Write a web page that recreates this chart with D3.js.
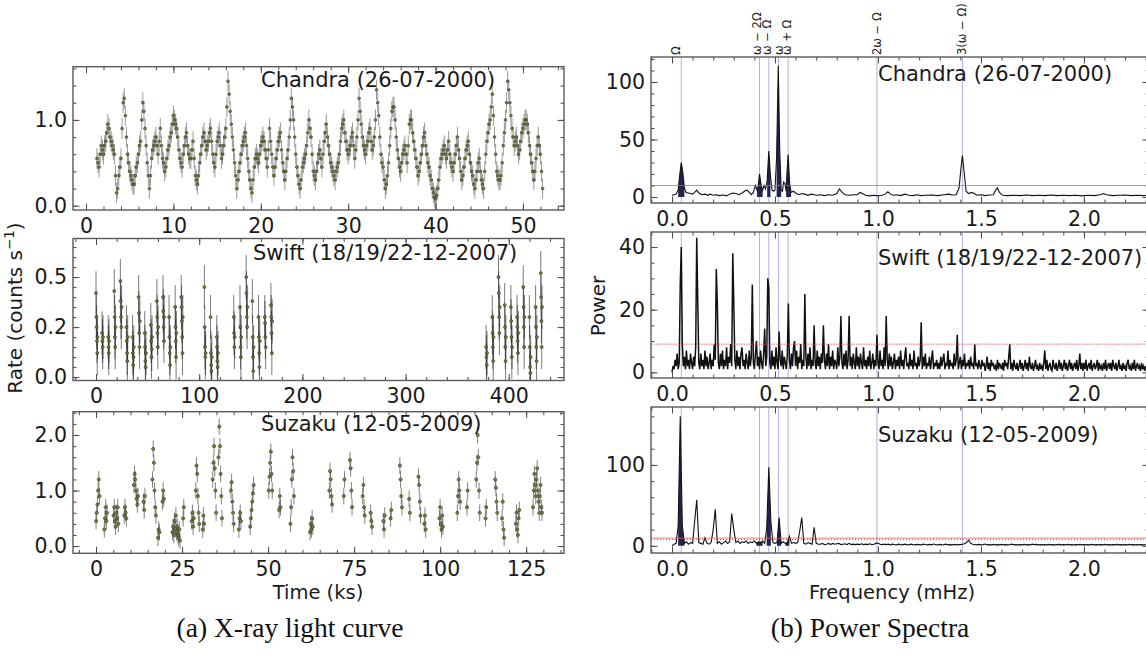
<!DOCTYPE html>
<html><head><meta charset="utf-8">
<script src="https://cdn.jsdelivr.net/npm/d3@7"></script>
<style>
body{margin:0;background:#fff;}
</style></head><body>
<svg id="c" width="1146" height="661" font-family="DejaVu Sans" xmlns="http://www.w3.org/2000/svg"></svg>
<script>
// ---------------- DATA ----------------
// Chandra light curve (26-07-2000): start time (ks), bin (ks), rates (counts/s)
const chandraStart = 1.25, chandraBin = 0.125, chandraErr = 0.12;
const chandraRate = [
0.55,0.5,0.45,0.6,0.7,0.65,0.6,0.7, 0.75,0.85,0.95,0.9,0.8,0.75,0.7,0.65,
0.6,0.35,0.15,0.2,0.35,0.45,0.55,0.9, 1.2,1.25,1.05,0.8,0.6,0.5,0.4,0.35,
0.3,0.25,0.25,0.35,0.45,0.5,0.6,0.7, 0.75,1.0,1.2,1.1,0.9,0.7,0.5,0.35,
0.2,0.35,0.55,0.65,0.7,0.75,0.8,0.7, 0.6,0.75,0.9,0.7,0.55,0.5,0.4,0.45,
0.55,0.65,0.7,0.8,0.85,0.95,1.05,1.0, 0.95,0.9,0.8,0.65,0.55,0.5,0.45,0.6,
0.7,0.8,0.85,0.7,0.6,0.55,0.55,0.65, 0.75,0.55,0.35,0.3,0.25,0.35,0.5,0.6,
0.7,0.8,0.85,0.75,0.65,0.7,0.75,0.85, 0.9,0.75,0.6,0.5,0.45,0.6,0.75,0.8,
0.85,0.7,0.55,0.6,0.7,0.8,0.9,1.15, 1.45,1.3,1.1,0.95,0.8,0.65,0.5,0.35,
0.2,0.3,0.4,0.5,0.6,0.7,0.75,0.8, 0.85,0.7,0.55,0.4,0.3,0.2,0.15,0.3,
0.45,0.55,0.6,0.55,0.5,0.6,0.7,0.75, 0.8,0.75,0.65,0.55,0.45,0.65,0.9,0.75,
0.6,0.45,0.35,0.45,0.55,0.65,0.75,0.8, 0.85,0.65,0.5,0.4,0.3,0.4,0.55,0.65,
0.8,1.0,1.25,1.15,1.0,0.8,0.6,0.45, 0.35,0.25,0.2,0.3,0.45,0.5,0.55,0.6,
0.7,0.85,1.0,0.9,0.8,0.6,0.4,0.35, 0.3,0.4,0.5,0.6,0.65,0.55,0.45,0.6,
0.75,0.85,0.95,0.8,0.7,0.6,0.5,0.45, 0.4,0.35,0.3,0.4,0.45,0.5,0.6,0.75,
0.9,0.95,1.0,0.85,0.75,0.65,0.6,0.65, 0.7,0.8,0.85,0.7,0.55,0.65,0.8,1.0,
1.25,1.1,0.95,0.8,0.7,0.65,0.6,0.7, 0.75,0.85,0.9,0.75,0.65,0.7,0.8,1.0,
1.35,1.2,1.05,0.8,0.6,0.5,0.45,0.3, 0.2,0.25,0.35,0.5,0.7,0.9,1.1,1.15,
1.15,1.0,0.8,0.65,0.55,0.45,0.4,0.5, 0.6,0.65,0.7,0.6,0.5,0.7,0.95,1.0,
1.0,0.85,0.75,0.65,0.55,0.45,0.35,0.4, 0.5,0.6,0.7,0.8,0.85,0.7,0.6,0.5,
0.45,0.35,0.3,0.2,0.15,0.1,0.08,0.12, 0.2,0.3,0.45,0.55,0.6,0.65,0.7,0.6,
0.55,0.65,0.75,0.6,0.5,0.45,0.4,0.5, 0.6,0.7,0.8,0.65,0.55,0.4,0.3,0.35,
0.45,0.55,0.65,0.7,0.75,0.6,0.5,0.4, 0.35,0.25,0.2,0.3,0.4,0.5,0.55,0.4,
0.3,0.25,0.2,0.4,0.6,0.75,0.85,0.95, 1.0,1.15,1.3,1.05,0.8,0.6,0.4,0.35,
0.3,0.3,0.35,0.5,0.7,0.85,1.0,1.2, 1.45,1.35,1.2,1.05,0.9,0.8,0.7,0.75,
0.8,0.7,0.6,0.65,0.75,0.85,0.9,0.95, 1.0,1.0,0.95,0.85,0.7,0.6,0.5,0.4,
0.3,0.4,0.55,0.7,0.8,0.7,0.6,0.4, 0.2];

// Swift light curve: snapshot start times (ks) and rates within each snapshot
const swiftBin = 0.3, swiftErr = 0.11;
const swiftSnapTime = [0,5.9,11.8,17.7,23.6,29.5,35.4,41.3,47.2,53.1,59,64.9,70.8,76.7,82.6,
  105,111,117, 133.5,139.5,145.5,151.5,157.5,163.5,169.5,
  378,384,390,396,402,408,414,420,426,431];
const swiftSnapRate = [
 [0.42,0.3,0.25,0.18,0.12,0.2],[0.22,0.18,0.15,0.2],[0.2,0.15,0.12,0.18],[0.43,0.3,0.2,0.15,0.25],
 [0.48,0.38,0.3,0.25,0.35],[0.25,0.18,0.12,0.08,0.2],[0.2,0.12,0.06,0.1,0.15],[0.4,0.32,0.22,0.15,0.28],
 [0.22,0.15,0.08,0.05,0.12],[0.26,0.18,0.1,0.14,0.2],[0.38,0.3,0.22,0.15,0.25],[0.4,0.33,0.25,0.18,0.3],
 [0.3,0.2,0.12,0.06,0.15],[0.35,0.25,0.18,0.1,0.22],[0.4,0.35,0.28,0.2,0.12,0.3],
 [0.45,0.25,0.15,0.1,0.12],[0.3,0.12,0.06,0.03,0.1],[0.2,0.15,0.08,0.05,0.12],
 [0.3,0.22,0.15,0.2],[0.35,0.25,0.15,0.1,0.2],[0.5,0.42,0.3,0.25,0.35],[0.38,0.2,0.1,0.03,0.15],
 [0.3,0.2,0.12,0.05,0.18],[0.3,0.27,0.2,0.15],[0.36,0.3,0.22,0.12,0.28],
 [0.15,0.1,0.06,0.12],[0.3,0.22,0.15,0.08,0.2],[0.5,0.42,0.3,0.22,0.35],[0.36,0.25,0.15,0.08,0.2],
 [0.35,0.28,0.2,0.1,0.15],[0.3,0.25,0.18,0.12,0.22],[0.45,0.35,0.25,0.15,0.3],[0.3,0.15,0.05,0.02,0.1],
 [0.35,0.25,0.15,0.08,0.2],[0.52,0.4,0.28,0.15,0.35]];

// Suzaku light curve: orbit-segment start times (ks) and rates
const suzakuBin = 0.2, suzakuErr = 0.15;
const suzakuSegStart = [0,2.4,5.1,8.2,11.0,13.8,16.4,18.0,19.3,22.2,25.3,27.8,29.0,31.0,33.9,35.6,39.2,41.5,44.8,
  50.2,53.2,56.5,62.2,67.8,72.0,73.8,77.5,79.8,83.5,85.6,88.3,91.0,93.7,95.4,99.8,105.0,107.8,110.5,113.2,116.0,118.0,122.0,127.0];
const suzakuSegRate = [
 [0.45,0.6,0.75,1.0,1.2,0.9],[0.3,0.5,0.7,0.45,0.6],[0.55,0.7,0.45,0.35,0.6,0.5,0.7,0.4],[0.55,0.7,0.6,0.5],
 [1.1,1.3,1.2,1.0,0.85,0.75,0.9],[0.8,0.65,0.9],[1.2,1.75,1.5,1.0,0.7,0.55],[0.15,0.3,0.25],[0.8,1.0,0.85],
 [0.25,0.35,0.2,0.45,0.3,0.55,0.25,0.35,0.2,0.15,0.3,0.1],[0.5,0.7],[0.45,0.6,0.35,0.5],[1.0,1.45,1.3,0.9,0.6,0.4],
 [0.3,0.55,0.4],[1.2,1.5,1.8,1.4,1.0,0.6],[1.6,2.15,1.8,1.3,0.9,0.5],[1.0,1.15,0.8,0.6,0.4],[0.3,0.5,0.6,0.45],
 [0.35,0.5,0.65,0.8,0.95,1.1],[1.0,1.25,1.5,1.7,1.3,1.0],[0.65,0.9,0.7],[0.4,0.7,1.2,1.6,1.35,0.9],
 [0.25,0.4,0.3,0.5,0.35],[1.0,1.35,1.2,0.9,0.75],[0.9,1.2],[1.55,1.4,1.0,0.7],[0.9,1.1,0.7,0.55],[0.6,0.45,0.35],
 [0.45,0.3,0.55],[0.5,0.65],[1.45,1.2,0.9,0.7],[0.85,0.6],[1.25,1.1,0.8,0.55],[0.4,0.55,0.3],
 [0.5,0.7,0.4,0.3,0.55,0.35],[0.6,0.9,1.2,1.0,0.8],[0.7,1.0],[1.2,1.5,2.0,1.6,1.0,0.6],[0.5,0.7],
 [1.2,1.05,0.8,0.6],[0.5,0.8,0.3,0.15],[0.4,0.6,0.3,0.2,0.5,0.65],
 [0.7,1.0,1.3,1.1,0.9,1.2,1.4,1.0,0.8,0.6,0.9,1.1,0.7,0.6]];

// Power spectra
const chandraPsdFreq = [0,0.01,0.02,0.03,0.038,0.045,0.052,0.06,0.068,0.08,0.09,0.1,0.112,0.12,0.13,0.145,0.16,0.175,0.185,0.2,
 0.215,0.23,0.25,0.265,0.28,0.295,0.31,0.325,0.34,0.355,0.365,0.375,0.385,0.395,0.405,0.413,0.418,0.425,0.433,0.44,
 0.447,0.454,0.462,0.47,0.478,0.486,0.494,0.5,0.508,0.516,0.523,0.53,0.536,0.542,0.548,0.554,0.558,0.564,0.571,0.578,
 0.59,0.6,0.615,0.63,0.645,0.66,0.675,0.69,0.705,0.72,0.74,0.76,0.78,0.8,0.813,0.826,0.84,0.86,0.88,0.9,
 0.912,0.925,0.94,0.96,0.98,1.0,1.02,1.035,1.048,1.06,1.075,1.09,1.11,1.13,1.15,1.17,1.19,1.21,1.23,1.26,
 1.29,1.32,1.345,1.36,1.38,1.394,1.403,1.41,1.418,1.428,1.44,1.455,1.468,1.48,1.5,1.52,1.54,1.56,1.572,1.58,
 1.59,1.605,1.63,1.66,1.69,1.72,1.75,1.78,1.81,1.84,1.87,1.9,1.93,1.96,1.99,2.02,2.05,2.08,2.095,2.11,
 2.14,2.17,2.2,2.23,2.26,2.29,2.32];
const chandraPsdPow = [1.5,2,2.5,6,20,30,22,8,4,3.5,3,2.5,4.5,6,3.5,2,2.5,1.5,2.5,1.5,
 2,1.2,1.8,1,2.5,3.5,3,2,3.5,5.5,6,4,2,4,10,6,9,20,10,6,
 10,7,14,40,18,6,5,6,35,114,40,6,5,13,12,5,20,37,12,4,
 5,3.5,2,3,2.5,1.5,2.5,2,1.5,2,1.2,2,1.5,3,7,4,2,1.5,2,2,
 4,3,1.5,1,1.5,1,1.5,2.5,4.5,2.5,1.5,2,1.2,2.5,1.5,1.2,2,1.2,1.5,1.8,
 1.2,2,2.5,1.8,2,8,25,36,22,5,3,4,3,1.5,2,1.2,1.8,2,6,8,
 4,1.5,1.2,1.5,1.2,1.8,1.2,1.5,1.2,1.8,1.2,1.5,1.2,1.5,1,1.5,1.2,2,3,2,
 1.2,1.5,1.8,1.2,1.5,1.2,1.5];

// Swift periodogram: frequency bin 0.005 mHz starting at 0
const swiftStep = 0.005;
const swiftPsdPow = [
 0,2,1,4,2,6,1,3,28,40,9,2,5,1,7,2,4,1,6,3,
 1,5,2,8,43,23,3,1,6,2,4,1,7,2,5,1,3,6,1,4,
 2,9,4,33,22,3,1,6,2,7,1,4,2,8,1,5,3,9,2,38,
 22,4,1,7,2,5,1,6,8,2,4,1,6,3,1,7,2,5,28,3,
 1,6,10,2,5,1,7,3,1,6,14,2,5,30,27,3,1,7,2,5,
 1,8,3,1,13,4,2,7,1,5,3,1,6,22,4,1,6,2,8,10,
 2,7,1,5,3,9,1,4,2,25,5,1,6,2,8,1,4,2,15,3,
 1,7,2,5,1,6,3,15,4,1,6,2,9,1,5,2,7,1,4,3,
 1,8,2,5,18,3,1,6,2,7,1,4,18,2,5,1,6,3,1,8,
 2,5,1,6,3,1,8,2,4,1,5,2,7,1,3,6,1,4,2,12,
 3,1,7,2,4,1,8,2,18,4,1,6,2,5,1,3,6,1,4,2,
 5,1,7,2,4,1,5,8,2,3,1,6,2,4,1,7,2,3,1,5,
 2,4,16,1,5,2,6,1,3,2,5,1,4,7,1,3,2,4,1,3,
 1,5,2,4,6,1,3,2,7,1,4,2,3,1,6,2,4,12,1,3,
 5,1,4,2,6,1,3,2,4,1,5,2,3,1,9,2,3,1,4,2,
 1,4,2,3,0.5,2,5,1,3,0.5,4,2,3,1,2,0.5,4,1,3,2,
 1,3,0.5,4,2,3,1,5,9,1,3,0.5,4,2,1,3,0.5,2,4,1,
 3,0.5,2,4,1,3,0.5,5,2,1,3,0.5,2,4,1,2,0.5,3,1,2,
 0.5,3,7,1,4,0.5,2,3,1,0.5,4,2,1,3,0.5,2,4,1,3,0.5,
 2,4,1,3,0.5,2,4,1,3,0.5,2,3,1,4,0.5,2,6,1,3,0.5,
 3,1,4,0.5,2,3,1,4,0.5,2,3,1,2,4,0.5,3,1,2,0.5,3,
 1,4,0.5,2,3,1,3,0.5,4,2,1,3,0.5,2,4,1,2,0.5,3,1,
 2,0.5,3,4,1,2,0.5,3,1,4,0.5,2,3,1,2,0.5,3,1,2,0.5,
 2];
// Suzaku periodogram: frequency bin 0.01 mHz starting at 0
const suzakuStep = 0.01;
const suzakuPsdPow = [
 0,2,3,25,160,25,3,5,2,4, 3,30,57,4,3,2,10,3,2,4, 20,45,3,5,2,4,6,3,5,40, 20,4,6,3,5,4,6,3,5,4,
 6,3,5,4,6,3,22,97,30,4, 3,4,35,3,5,3,4,12,3,4, 3,4,18,35,3,2,4,3,2,23, 3,2,2,3,1.5,2,3,1.5,3,2,
 2.5,3,1.5,2,2.5,1.5,3,1.5,2,1.5, 2,1.5,2.5,1.5,2,1.5,2.5,1.5,2,3, 3.5,2,1.5,2,1.5,2,1.2,2,1.5,1.2,
 2,1.5,1.2,2,1.5,1.2,2,1.5,1.2,1.8, 1.5,1.2,2,1.5,1.2,1.8,1.2,2.2,1.5,1.2, 1.8,1.2,1.5,2,1.2,1.5,1.2,1.8,1.2,1.5,
 1.5,2,2.5,4,7,3,2,1.5,1.2,1.8, 1.2,1.5,2.2,1.2,1.5,1.2,1.8,1.2,1.5,1.2, 1.8,1.2,1.5,1.2,1.5,2,1.2,1.5,1.2,1.5,
 1.2,1.8,1.2,1.5,1.2,2,1.5,1.8,1.2,1.5, 1.2,1.5,1.2,1.8,1.2,1.5,1.2,1.5,1.8,1.2, 1.5,1.2,1.8,1.2,1.5,1.2,1.5,1.2,1.8,1.2,
 1.5,1.2,1.5,1.2,1.8,1.2,1.5,1.2,1.5,1.2, 1.8,1.2,1.5,1.2,1.5,1.2,1.8,1.2,1.5,1.2, 1.5,1.2,1.8,1.2,1.5,1.2,1.5,1.2,1.5,1.2, 1.5];

// significance levels (power)
const sigLevel = [10, 9, 9.5];
const sigLevel2 = [null, null, 8];

// marked frequencies (mHz)
const markFreq  = [0.045, 0.425, 0.470, 0.517, 0.564, 0.995, 1.410];
const markLabel = ["Ω", "ω − 2Ω", "ω − Ω", "ω", "ω + Ω", "2ω − Ω", "3(ω − Ω)"];
const markFilled = [true, true, true, true, true, false, false];

// titles & tick labels
const lcTitles  = ["Chandra (26-07-2000)", "Swift (18/19/22-12-2007)", "Suzaku (12-05-2009)"];
const psdTitles = ["Chandra (26-07-2000)", "Swift (18/19/22-12-2007)", "Suzaku (12-05-2009)"];
const lcXTicks = [[0,10,20,30,40,50],[0,100,200,300,400],[0,25,50,75,100,125]];
const lcXTickLabels = [["0","10","20","30","40","50"],["0","100","200","300","400"],["0","25","50","75","100","125"]];
const lcYTicks = [[0,1],[0,0.25,0.5],[0,1,2]];
const lcYTickLabels = [["0.0","1.0"],["0.0","0.2","0.5"],["0.0","1.0","2.0"]];
const psdXTicks = [0,0.5,1,1.5,2];
const psdXTickLabels = ["0.0","0.5","1.0","1.5","2.0"];
const psdYTicks = [[0,50,100],[0,20,40],[0,100]];
const psdYTickLabels = [["0","50","100"],["0","20","40"],["0","100"]];

// ---------------- LAYOUT ----------------
const svg = d3.select("#c");
svg.append("rect").attr("width",1146).attr("height",661).attr("fill","#fff");
const defs = svg.append("defs");

const leftPanels = [
  {x0:73,x1:564,y0:66.7,y1:210,  xd:[-1.49,54.7], yd:[-0.05,1.62],  xmin:2,   ymin:0.2},
  {x0:73,x1:564,y0:238.5,y1:380.5,xd:[-22.3,453.5],yd:[-0.017,0.693],xmin:20, ymin:0.05},
  {x0:73,x1:564,y0:411.7,y1:553.3,xd:[-6.7,136],  yd:[-0.13,2.42],  xmin:5,   ymin:0.2}];
const rightPanels = [
  {x0:651,x1:1149,y0:57,y1:203,  xd:[-0.102,2.316], yd:[-5.2,121.7], xmin:0.1, ymin:10},
  {x0:651,x1:1149,y0:232,y1:378, xd:[-0.102,2.316], yd:[-1.8,44.8],  xmin:0.1, ymin:5},
  {x0:651,x1:1149,y0:407,y1:553, xd:[-0.102,2.316], yd:[-8.9,171.6], xmin:0.1, ymin:20}];

let clipN = 0;
function makePanel(p){
  p.x = d3.scaleLinear().domain(p.xd).range([p.x0,p.x1]);
  p.y = d3.scaleLinear().domain(p.yd).range([p.y1,p.y0]);
  const id = "clip"+(clipN++);
  defs.append("clipPath").attr("id",id).append("rect")
    .attr("x",p.x0).attr("y",p.y0).attr("width",p.x1-p.x0).attr("height",p.y1-p.y0);
  p.g = svg.append("g").attr("clip-path",`url(#${id})`);
  return p;
}
function minorVals(d, s){
  const a = Math.ceil(d[0]/s - 1e-9), b = Math.floor(d[1]/s + 1e-9);
  return d3.range(a,b+1).map(k=>+(k*s).toFixed(6));
}
function drawAxes(p, xt, xl, yt, yl){
  const ax = svg.append("g");
  const MJ = 6.5, MN = 3.5;
  const xm = minorVals(p.xd,p.xmin), ym = minorVals(p.yd,p.ymin);
  ax.append("g").attr("transform",`translate(0,${p.y1})`)
    .call(d3.axisBottom(p.x).tickValues(xm).tickFormat("").tickSize(-MN));
  ax.append("g").attr("transform",`translate(0,${p.y0})`)
    .call(d3.axisTop(p.x).tickValues(xm).tickFormat("").tickSize(-MN));
  ax.append("g").attr("transform",`translate(${p.x0},0)`)
    .call(d3.axisLeft(p.y).tickValues(ym).tickFormat("").tickSize(-MN));
  ax.append("g").attr("transform",`translate(${p.x1},0)`)
    .call(d3.axisRight(p.y).tickValues(ym).tickFormat("").tickSize(-MN));
  ax.append("g").attr("transform",`translate(0,${p.y1})`)
    .call(d3.axisBottom(p.x).tickValues(xt).tickFormat((d,i)=>xl[i]).tickSize(-MJ).tickPadding(8));
  ax.append("g").attr("transform",`translate(0,${p.y0})`)
    .call(d3.axisTop(p.x).tickValues(xt).tickFormat("").tickSize(-MJ));
  ax.append("g").attr("transform",`translate(${p.x0},0)`)
    .call(d3.axisLeft(p.y).tickValues(yt).tickFormat((d,i)=>yl[i]).tickSize(-MJ).tickPadding(6));
  ax.append("g").attr("transform",`translate(${p.x1},0)`)
    .call(d3.axisRight(p.y).tickValues(yt).tickFormat("").tickSize(-MJ));
  ax.selectAll(".domain").remove();
  ax.selectAll("line").attr("stroke","#4a4a4a").attr("stroke-width",1);
  ax.selectAll("g").attr("font-family",null).attr("font-size",null);
  ax.selectAll("text").attr("font-size",20.5).attr("fill","#1a1a1a").attr("font-family","DejaVu Sans");
  ax.append("rect").attr("x",p.x0).attr("y",p.y0).attr("width",p.x1-p.x0).attr("height",p.y1-p.y0)
    .attr("fill","none").attr("stroke","#5a5a5a").attr("stroke-width",1.4);
}

// ---------------- LIGHT CURVES ----------------
function drawLC(p, pts, err, barColor, barOpacity, r){
  p.g.append("g").selectAll("line").data(pts).join("line")
    .attr("x1",d=>p.x(d[0])).attr("x2",d=>p.x(d[0]))
    .attr("y1",d=>p.y(d[1]-err)).attr("y2",d=>p.y(d[1]+err))
    .attr("stroke",barColor).attr("stroke-opacity",barOpacity).attr("stroke-width",1);
  p.g.append("g").selectAll("circle").data(pts).join("circle")
    .attr("cx",d=>p.x(d[0])).attr("cy",d=>p.y(d[1])).attr("r",r)
    .attr("fill","#7a7a2c").attr("stroke","#2e2e1c").attr("stroke-width",0.6).attr("fill-opacity",0.9);
}
const L = leftPanels.map(makePanel);
const chandraPts = chandraRate.map((v,i)=>[chandraStart + i*chandraBin, v]);
drawLC(L[0], chandraPts, chandraErr, "#6e6e6e", 0.7, 1.4);
const swiftPts = [];
swiftSnapTime.forEach((t,i)=>swiftSnapRate[i].forEach((v,j)=>swiftPts.push([t + j*swiftBin, v])));
drawLC(L[1], swiftPts, swiftErr, "#222", 0.6, 1.5);
const suzakuPts = [];
suzakuSegStart.forEach((t,i)=>suzakuSegRate[i].forEach((v,j)=>suzakuPts.push([t + j*suzakuBin, v])));
drawLC(L[2], suzakuPts, suzakuErr, "#555", 0.75, 1.6);
L.forEach((p,i)=>{
  drawAxes(p, lcXTicks[i], lcXTickLabels[i], lcYTicks[i], lcYTickLabels[i]);
});
const lcTitlePos = [[261,87],[253,260],[261,431]];
L.forEach((p,i)=>svg.append("text").attr("x",lcTitlePos[i][0]).attr("y",lcTitlePos[i][1])
  .attr("font-size",21).attr("fill","#1a1a1a").text(lcTitles[i]));

// ---------------- POWER SPECTRA ----------------
const R = rightPanels.map(makePanel);
const psdData = [
  chandraPsdFreq.map((f,i)=>[f, chandraPsdPow[i]]),
  swiftPsdPow.map((v,i)=>[i*swiftStep, v]),
  suzakuPsdPow.map((v,i)=>[i*suzakuStep, v])];
const sigStyle = [{c:"#ee5555",dash:null},{c:"#e04545",dash:"1.5,1"},{c:"#ee5555",dash:null}];
R.forEach((p,k)=>{
  const data = psdData[k];
  p.g.append("g").selectAll("line").data(markFreq).join("line")
    .attr("x1",d=>p.x(d)).attr("x2",d=>p.x(d)).attr("y1",p.y0).attr("y2",p.y1)
    .attr("stroke","#aeb1e2").attr("stroke-width",1);
  const area = d3.area().x(d=>p.x(d[0])).y0(p.y(0)).y1(d=>p.y(d[1]));
  if (k !== 1) markFreq.forEach((m,j)=>{
    if (!markFilled[j]) return;
    const seg = data.filter(d=>Math.abs(d[0]-m) <= 0.0151);
    if (seg.length>1) p.g.append("path").attr("d",area(seg)).attr("fill","#23234e");
  });
  p.g.append("path").attr("d", d3.line().x(d=>p.x(d[0])).y(d=>p.y(d[1]))(data))
    .attr("fill","none").attr("stroke","#111").attr("stroke-width",k===1?1.5:1.1);
  if (sigLevel2[k] !== null)
    p.g.append("line").attr("x1",p.x0).attr("x2",p.x1).attr("y1",p.y(sigLevel2[k])).attr("y2",p.y(sigLevel2[k]))
      .attr("stroke","#444").attr("stroke-width",0.8).attr("stroke-dasharray","1,2");
  p.g.append("line").attr("x1",p.x0).attr("x2",p.x1).attr("y1",p.y(sigLevel[k])).attr("y2",p.y(sigLevel[k]))
    .attr("stroke",sigStyle[k].c).attr("stroke-opacity",0.85).attr("stroke-width",0.9).attr("stroke-dasharray",sigStyle[k].dash);
  drawAxes(p, psdXTicks, psdXTickLabels, psdYTicks[k], psdYTickLabels[k]);
});
const psdTitlePos = [[878,81],[878,265],[878,442]];
R.forEach((p,i)=>svg.append("text").attr("x",psdTitlePos[i][0]).attr("y",psdTitlePos[i][1])
  .attr("font-size",21).attr("fill","#1a1a1a").text(psdTitles[i]));

// labels of the marked frequencies above the top spectrum
const lblOff = [-5,-3,-2,1,-1,0,0];
markFreq.forEach((m,j)=>{
  const x = R[0].x(m) + lblOff[j], y = 55;
  svg.append("text").attr("transform",`translate(${x},${y}) rotate(-90)`)
    .attr("text-anchor","start").attr("dominant-baseline","central")
    .attr("font-size",11.5).attr("fill","#222").text(markLabel[j]);
});

// ---------------- AXIS LABELS & CAPTIONS ----------------
const rl = svg.append("text").attr("transform","translate(22,308) rotate(-90)")
  .attr("text-anchor","middle").attr("font-size",20).attr("fill","#1a1a1a");
rl.append("tspan").text("Rate (counts s");
rl.append("tspan").attr("dy",-8).attr("font-size",13.5).text("−1");
rl.append("tspan").attr("dy",8).text(")");
svg.append("text").attr("transform","translate(598,306) rotate(-90)")
  .attr("text-anchor","middle").attr("dominant-baseline","central").attr("font-size",20).attr("fill","#1a1a1a").text("Power");
svg.append("text").attr("x",318).attr("y",599).attr("text-anchor","middle").attr("font-size",19.5).attr("fill","#1a1a1a").text("Time (ks)");
svg.append("text").attr("x",892).attr("y",599).attr("text-anchor","middle").attr("font-size",19.5).attr("fill","#1a1a1a").text("Frequency (mHz)");
svg.append("text").attr("x",290).attr("y",637).attr("text-anchor","middle")
  .attr("font-family","Liberation Serif").attr("font-size",27.5).attr("fill","#111").text("(a) X-ray light curve");
svg.append("text").attr("x",870).attr("y",637).attr("text-anchor","middle")
  .attr("font-family","Liberation Serif").attr("font-size",27.5).attr("fill","#111").text("(b) Power Spectra");
</script>
</body></html>
